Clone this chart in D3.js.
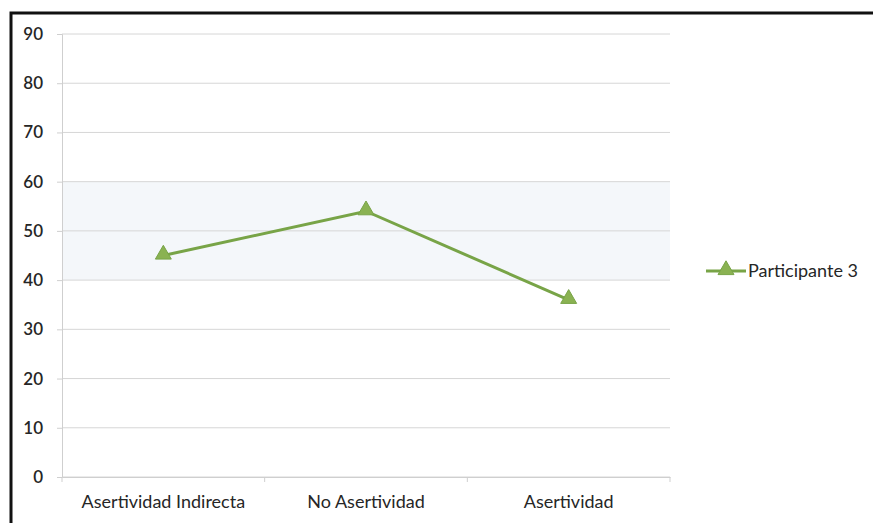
<!DOCTYPE html>
<html>
<head>
<meta charset="utf-8">
<script src="https://cdn.jsdelivr.net/npm/d3@7"></script>
<style>
  html, body { margin: 0; padding: 0; background: #ffffff; }
  svg { display: block; }
  text { font-family: Lato, "Open Sans", sans-serif; fill: #262626; }
</style>
</head>
<body>
<div id="chart"></div>
<script>
// Scores per assertiveness category for one participant
const categories = ["Asertividad Indirecta", "No Asertividad", "Asertividad"];
const seriesName = "Participante 3";
const values = [45, 54, 36];
const yTicks = [0, 10, 20, 30, 40, 50, 60, 70, 80, 90];

const W = 873, H = 523;
const plot = { left: 62, right: 670, top: 34, bottom: 477 };
const lineColor = "#78a447";
const markerColor = "#8ab252";

const svg = d3.select("#chart").append("svg")
  .attr("width", W).attr("height", H);

// Outer frame (top and left edges)
svg.append("path")
  .attr("d", `M11,${H} L11,13 L${W},13`)
  .attr("fill", "none").attr("stroke", "#111").attr("stroke-width", 3);

const x = d3.scaleBand().domain(categories).range([plot.left, plot.right]);
const y = d3.scaleLinear().domain([0, 90]).range([plot.bottom, plot.top]);

// Soft tinted band in the middle of the plot
svg.append("rect")
  .attr("x", plot.left).attr("width", plot.right - plot.left)
  .attr("y", y(60)).attr("height", y(40) - y(60))
  .attr("fill", "#f4f7fa");

// Horizontal gridlines
svg.append("g").selectAll("line").data(yTicks).join("line")
  .attr("x1", plot.left).attr("x2", plot.right)
  .attr("y1", d => y(d)).attr("y2", d => y(d))
  .attr("stroke", "#d6d6d6").attr("stroke-width", 1);

// Y axis
const yAxis = svg.append("g")
  .attr("transform", `translate(${plot.left},0)`)
  .call(d3.axisLeft(y).tickValues(yTicks).tickSize(5).tickPadding(14));
yAxis.select(".domain").attr("stroke", "#cfcfcf");
yAxis.selectAll(".tick line").attr("stroke", "#cfcfcf");
yAxis.selectAll(".tick text")
  .style("font-size", "17px").style("font-weight", "600").attr("fill", "#262626");

// X axis
const xAxis = svg.append("g")
  .attr("transform", `translate(0,${plot.bottom})`)
  .call(d3.axisBottom(x).tickSize(0).tickPadding(18));
xAxis.select(".domain").attr("stroke", "#cfcfcf");
xAxis.selectAll(".tick text")
  .style("font-size", "18px").attr("fill", "#262626");
// Category boundary ticks
const bounds = categories.map(c => x(c)).concat([plot.right]);
svg.append("g").selectAll("line").data(bounds).join("line")
  .attr("x1", d => d).attr("x2", d => d)
  .attr("y1", plot.bottom).attr("y2", plot.bottom + 5)
  .attr("stroke", "#cfcfcf");

// Data line
const cx = (d, i) => x(categories[i]) + x.bandwidth() / 2;
svg.append("path")
  .datum(values)
  .attr("d", d3.line().x(cx).y(d => y(d)))
  .attr("fill", "none").attr("stroke", lineColor).attr("stroke-width", 3);

// Triangle markers
const tri = d3.symbol().type(d3.symbolTriangle).size(110);
svg.append("g").selectAll("path").data(values).join("path")
  .attr("d", tri)
  .attr("transform", (d, i) => `translate(${cx(d, i)},${y(d) - 1})`)
  .attr("fill", markerColor).attr("stroke", lineColor).attr("stroke-width", 1);

// Legend
const lg = svg.append("g").attr("transform", "translate(706,271)");
lg.append("line").attr("x1", 0).attr("x2", 40).attr("y1", 0).attr("y2", 0)
  .attr("stroke", lineColor).attr("stroke-width", 3);
lg.append("path").attr("d", tri).attr("transform", "translate(20,-1)")
  .attr("fill", markerColor).attr("stroke", lineColor).attr("stroke-width", 1);
lg.append("text").attr("x", 42).attr("y", 0).attr("dy", "0.35em")
  .style("font-size", "18px").text(seriesName);
</script>
</body>
</html>
